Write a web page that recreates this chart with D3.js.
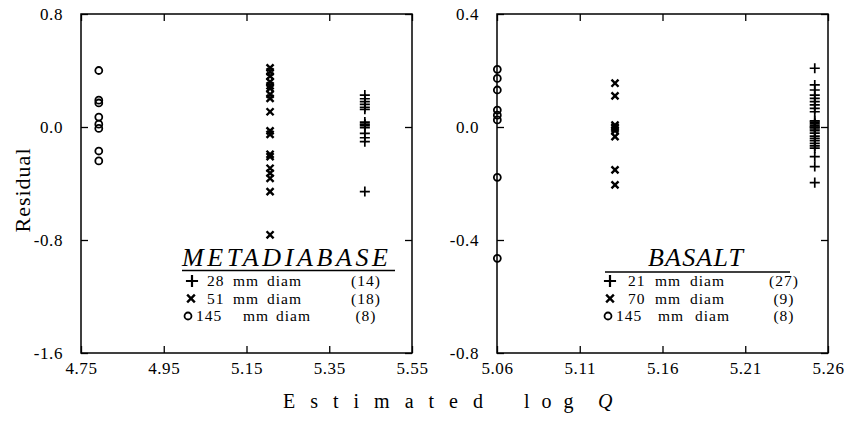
<!DOCTYPE html>
<html>
<head>
<meta charset="utf-8">
<script src="https://cdnjs.cloudflare.com/ajax/libs/d3/7.8.5/d3.min.js"></script>
<style>
    html, body { margin: 0; padding: 0; background: #fff; }
    svg { display: block; }
</style>
</head>
<body>
<svg id="chart" width="846" height="423"></svg>
<script>
(function () {
    'use strict';

    // metadiabase: 28, 51, 145 mm diameter
    var metaXTicks = [4.75, 4.95, 5.15, 5.35, 5.55];
    var metaYTicks = [0.8, 0.0, -0.8, -1.6];
    var metaLogQ = [5.436, 5.207, 4.793];
    var metaPlus = [0.226, 0.20, 0.18, 0.16, 0.14, 0.125, 0.035, 0.021, 0.01, -0.005, -0.045, -0.076, -0.104, -0.457];
    var metaCross = [0.419, 0.391, 0.36, 0.32, 0.292, 0.273, 0.231, 0.203, 0.108, -0.028, -0.052,
        -0.193, -0.21, -0.292, -0.327, -0.363, -0.457, -0.763];
    var metaCircle = [0.40, 0.19, 0.17, 0.07, 0.02, -0.01, -0.17, -0.24];
    var metaSizes = ['28', '51', '145'];
    var metaCounts = ['(14)', '(18)', '(8)'];

    // basalt: 21, 70, 145 mm diameter
    var basXTicks = [5.06, 5.11, 5.16, 5.21, 5.26];
    var basYTicks = [0.4, 0.0, -0.4, -0.8];
    var basLogQ = [5.252, 5.1313, 5.0602];
    var basPlus = [0.208, 0.149, 0.131, 0.113, 0.101, 0.09, 0.078, 0.066, 0.054, 0.022, 0.017, 0.011, 0.005,
        0.0, -0.001, -0.007, -0.013, -0.022, -0.032, -0.04, -0.048, -0.058, -0.067, -0.075, -0.105, -0.14, -0.197];
    var basCross = [0.155, 0.11, 0.007, 0.0, -0.005, -0.013, -0.034, -0.152, -0.205];
    var basCircle = [0.204, 0.172, 0.131, 0.06, 0.042, 0.025, -0.178, -0.465];
    var basSizes = ['21', '70', '145'];
    var basCounts = ['(27)', '(9)', '(8)'];

    var FONT = '"Liberation Serif", "Times New Roman", Times, serif';
    var TICK = 7;
    var svg = d3.select('#chart');

    var MARKS = [
        { type: d3.symbolPlus, size: 35, width: 1.7, legendSize: 50, legendWidth: 2.2 },
        { type: d3.symbolTimes, size: 34, width: 2.4, legendSize: 40, legendWidth: 2.4 },
        { type: d3.symbolCircle, size: 38, width: 1.8, legendSize: 38, legendWidth: 1.8 }
    ];

    var panels = [
        {
            left: 81, right: 412, top: 14, bottom: 353,
            xDomain: [4.75, 5.55], yDomain: [-1.6, 0.8],
            xTicks: metaXTicks, yTicks: metaYTicks,
            logQ: metaLogQ, series: [metaPlus, metaCross, metaCircle],
            name: 'METADIABASE', sizes: metaSizes, counts: metaCounts,
            legend: {
                titleX: 182, titleY: 266, titleSpacing: 3.6, line: [182, 395], lineY: 270.5,
                markX: [192, 191, 188], numX: [207, 207, 196], mmX: [233, 233, 243], diamX: [267, 267, 276],
                countX: 366, rowY: [286, 303.5, 321]
            }
        },
        {
            left: 497, right: 828, top: 14, bottom: 353,
            xDomain: [5.06, 5.26], yDomain: [-0.8, 0.4],
            xTicks: basXTicks, yTicks: basYTicks,
            logQ: basLogQ, series: [basPlus, basCross, basCircle],
            name: 'BASALT', sizes: basSizes, counts: basCounts,
            legend: {
                titleX: 648, titleY: 266, titleSpacing: 1.2, line: [605, 790], lineY: 272,
                markX: [610, 610, 608], numX: [628, 628, 616], mmX: [655, 655, 658], diamX: [690, 690, 695],
                countX: 784, rowY: [286, 303.5, 321]
            }
        }
    ];

    function styleAxis(g, showText) {
        g.select('.domain').remove();
        g.selectAll('.tick line').attr('stroke', '#000').attr('stroke-width', 1.3);
        g.selectAll('.tick text')
            .attr('fill', '#000')
            .attr('font-family', FONT)
            .attr('font-size', 17)
            .attr('letter-spacing', '0.6px')
            .style('display', showText ? null : 'none');
    }

    function drawLegend(g, p) {
        var L = p.legend;
        g.append('text')
            .attr('x', L.titleX)
            .attr('y', L.titleY)
            .attr('font-family', FONT)
            .attr('font-style', 'italic')
            .attr('font-size', 26)
            .attr('letter-spacing', L.titleSpacing + 'px')
            .text(p.name);
        g.append('line')
            .attr('x1', L.line[0]).attr('x2', L.line[1])
            .attr('y1', L.lineY).attr('y2', L.lineY)
            .attr('stroke', '#000').attr('stroke-width', 1.5);

        var rows = g.selectAll('g.row')
            .data(p.sizes)
            .join('g')
            .attr('class', 'row')
            .attr('font-family', FONT)
            .attr('font-size', 15.5)
            .attr('letter-spacing', '1px');

        rows.append('path')
            .attr('transform', function (d, i) { return 'translate(' + L.markX[i] + ',' + (L.rowY[i] - 5) + ')'; })
            .attr('d', function (d, i) { return d3.symbol(MARKS[i].type, MARKS[i].legendSize)(); })
            .attr('fill', 'none')
            .attr('stroke', '#000')
            .attr('stroke-width', function (d, i) { return MARKS[i].legendWidth; });
        rows.append('text')
            .attr('x', function (d, i) { return L.numX[i]; }).attr('y', function (d, i) { return L.rowY[i]; })
            .text(function (d) { return d; });
        rows.append('text')
            .attr('x', function (d, i) { return L.mmX[i]; }).attr('y', function (d, i) { return L.rowY[i]; })
            .text('mm');
        rows.append('text')
            .attr('x', function (d, i) { return L.diamX[i]; }).attr('y', function (d, i) { return L.rowY[i]; })
            .text('diam');
        rows.append('text')
            .attr('x', L.countX).attr('y', function (d, i) { return L.rowY[i]; })
            .attr('text-anchor', 'middle')
            .text(function (d, i) { return p.counts[i]; });
    }

    function drawPanel(p) {
        var x = d3.scaleLinear().domain(p.xDomain).range([p.left, p.right]);
        var y = d3.scaleLinear().domain(p.yDomain).range([p.bottom, p.top]);
        var g = svg.append('g');

        g.append('g')
            .attr('transform', 'translate(0,' + p.bottom + ')')
            .call(d3.axisBottom(x).tickValues(p.xTicks).tickSize(-TICK).tickPadding(9)
                .tickFormat(function (v) { return v.toFixed(2); }))
            .call(styleAxis, true);
        g.append('g')
            .attr('transform', 'translate(0,' + p.top + ')')
            .call(d3.axisTop(x).tickValues(p.xTicks).tickSize(-TICK))
            .call(styleAxis, false);
        g.append('g')
            .attr('transform', 'translate(' + p.left + ',0)')
            .call(d3.axisLeft(y).tickValues(p.yTicks).tickSize(-TICK).tickPadding(18)
                .tickFormat(function (v) { return v.toFixed(1); }))
            .call(styleAxis, true);
        g.append('g')
            .attr('transform', 'translate(' + p.right + ',0)')
            .call(d3.axisRight(y).tickValues(p.yTicks).tickSize(-TICK))
            .call(styleAxis, false);

        g.append('rect')
            .attr('x', p.left).attr('y', p.top)
            .attr('width', p.right - p.left).attr('height', p.bottom - p.top)
            .attr('fill', 'none').attr('stroke', '#000').attr('stroke-width', 1.5);

        p.series.forEach(function (values, i) {
            g.append('g').selectAll('path')
                .data(values)
                .join('path')
                .attr('transform', function (d) { return 'translate(' + x(p.logQ[i]) + ',' + y(d) + ')'; })
                .attr('d', d3.symbol(MARKS[i].type, MARKS[i].size))
                .attr('fill', 'none')
                .attr('stroke', '#000')
                .attr('stroke-width', MARKS[i].width);
        });

        drawLegend(g, p);
    }

    panels.forEach(drawPanel);

    svg.append('text')
        .attr('transform', 'translate(30,190) rotate(-90)')
        .attr('text-anchor', 'middle')
        .attr('font-family', FONT)
        .attr('font-size', 22)
        .attr('letter-spacing', '1px')
        .text('Residual');

    var title = svg.append('text')
        .attr('y', 408)
        .attr('font-family', FONT)
        .attr('font-size', 20)
        .attr('letter-spacing', '15px');
    title.append('tspan').attr('x', 283).text('Estimated');
    title.append('tspan').attr('x', 524).attr('letter-spacing', '12px').text('log');
    title.append('tspan').attr('x', 598).attr('font-style', 'italic').text('Q');
})();
</script>
</body>
</html>
